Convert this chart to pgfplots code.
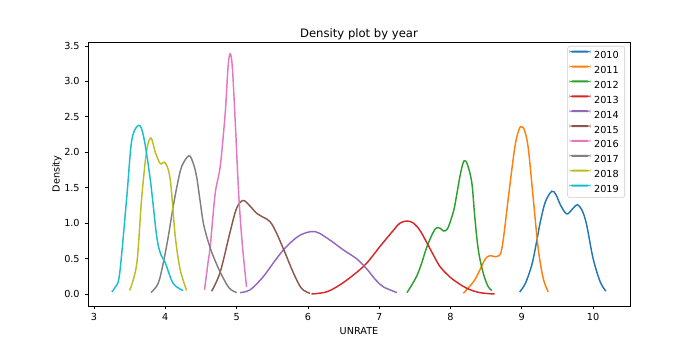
\documentclass[border=0pt]{standalone}
\usepackage{pgfplots}
\pgfplotsset{compat=1.18}
\usepackage{fontspec}
\setmainfont{DejaVu Sans}
\definecolor{c0}{HTML}{1F77B4}
\definecolor{c1}{HTML}{FF7F0E}
\definecolor{c2}{HTML}{2CA02C}
\definecolor{c3}{HTML}{D62728}
\definecolor{c4}{HTML}{9467BD}
\definecolor{c5}{HTML}{8C564B}
\definecolor{c6}{HTML}{E377C2}
\definecolor{c7}{HTML}{7F7F7F}
\definecolor{c8}{HTML}{BCBD22}
\definecolor{c9}{HTML}{17BECF}
\begin{document}
\begin{tikzpicture}
\useasboundingbox (0pt,0pt) rectangle (505.89pt,252.945pt);
\begin{axis}[
 at={(63.6pt,31.8pt)}, anchor=south west,
 scale only axis, width=391.7pt, height=190.8pt,
 xmin=2.916, xmax=10.517, ymin=-0.169, ymax=3.556,
 xtick={3,4,5,6,7,8,9,10},
 ytick={0,0.5,1,1.5,2,2.5,3,3.5},
 yticklabel style={/pgf/number format/.cd,fixed,fixed zerofill,precision=1},
 /pgf/number format/assume math mode=true,
 tick label style={font=\fontsize{7}{8.4}\selectfont},
 xticklabel style={yshift=0.5pt},
 tick align=outside, xtick pos=left, ytick pos=left,
 major tick length=2.5pt,
 every tick/.style={black, line width=0.58pt},
 axis line style={line width=0.58pt},
 title={Density plot by year},
 title style={font=\fontsize{8.4}{10}\selectfont, yshift=-8pt},
 xlabel={UNRATE}, ylabel={Density},
 label style={font=\fontsize{7}{8.4}\selectfont},
 xlabel style={yshift=2pt},
 ylabel style={yshift=-5pt},
 every axis plot/.append style={line width=1.05pt, smooth, tension=0.55},
 legend style={at={(1,1)}, xshift=-3.6pt, yshift=-2.9pt, anchor=north east,
   draw=black!20, fill=white, rounded corners=2pt, font=\fontsize{7}{8.4}\selectfont,
   inner xsep=1.5pt, inner ysep=3.2pt,
   nodes={inner xsep=2.8pt, inner ysep=0.5pt, text height=5.1pt, text depth=0pt}, row sep=4.45pt, cells={anchor=west}},
 legend image code/.code={\fill[#1, draw=none] (0pt,1.85pt) rectangle (15pt,3.25pt);},
]
\addplot[c0] coordinates {(8.97,0.03) (9.05,0.15) (9.14,0.41) (9.2,0.7) (9.26,1.02) (9.33,1.3) (9.42,1.45) (9.48,1.40) (9.54,1.26) (9.63,1.13) (9.72,1.21) (9.78,1.26) (9.85,1.17) (9.91,0.97) (10.0,0.50) (10.1,0.17) (10.18,0.04)};
\addlegendentry{2010}
\addplot[c1] coordinates {(8.18,0.01) (8.34,0.20) (8.48,0.48) (8.55,0.54) (8.65,0.53) (8.72,0.64) (8.81,1.35) (8.90,2.06) (8.96,2.32) (9.0,2.36) (9.04,2.30) (9.09,2.06) (9.16,1.35) (9.23,0.64) (9.30,0.22) (9.37,0.03)};
\addlegendentry{2011}
\addplot[c2] coordinates {(7.39,0.02) (7.52,0.24) (7.60,0.45) (7.67,0.67) (7.78,0.91) (7.85,0.93) (7.90,0.89) (7.95,0.91) (7.99,1.0) (8.05,1.2) (8.09,1.42) (8.14,1.7) (8.19,1.88) (8.24,1.82) (8.30,1.56) (8.34,1.09) (8.39,0.62) (8.46,0.29) (8.53,0.10) (8.58,0.05)};
\addlegendentry{2012}
\addplot[c3] coordinates {(6.05,0.0) (6.26,0.03) (6.45,0.13) (6.64,0.27) (6.82,0.43) (7.01,0.67) (7.20,0.90) (7.29,1.0) (7.39,1.03) (7.48,1.0) (7.57,0.90) (7.67,0.72) (7.76,0.55) (7.85,0.39) (7.95,0.28) (8.04,0.20) (8.23,0.08) (8.41,0.02) (8.62,0.0)};
\addlegendentry{2013}
\addplot[c4] coordinates {(5.05,0.02) (5.19,0.06) (5.37,0.24) (5.56,0.50) (5.70,0.67) (5.89,0.83) (6.10,0.88) (6.31,0.76) (6.50,0.62) (6.68,0.50) (6.82,0.36) (6.95,0.20) (7.06,0.10) (7.25,0.02)};
\addlegendentry{2014}
\addplot[c5] coordinates {(4.65,0.04) (4.77,0.31) (4.91,0.88) (5.0,1.21) (5.09,1.32) (5.18,1.25) (5.28,1.14) (5.38,1.08) (5.47,1.02) (5.56,0.86) (5.68,0.58) (5.80,0.29) (5.91,0.08) (6.03,0.01)};
\addlegendentry{2015}
\addplot[c6] coordinates {(4.55,0.06) (4.60,0.45) (4.63,0.67) (4.70,1.42) (4.77,1.8) (4.84,2.55) (4.88,3.2) (4.91,3.39) (4.94,3.2) (4.98,2.45) (5.03,1.4) (5.08,0.7) (5.14,0.10)};
\addlegendentry{2016}
\addplot[c7] coordinates {(3.80,0.02) (3.9,0.15) (3.97,0.43) (4.04,0.8) (4.11,1.23) (4.17,1.55) (4.23,1.8) (4.33,1.95) (4.39,1.85) (4.44,1.65) (4.49,1.3) (4.54,0.97) (4.63,0.65) (4.72,0.42) (4.81,0.23) (4.9,0.08) (5.0,0.02)};
\addlegendentry{2017}
\addplot[c8] coordinates {(3.5,0.05) (3.6,0.43) (3.67,1.37) (3.74,2.03) (3.80,2.2) (3.86,2.0) (3.93,1.84) (4.0,1.85) (4.07,1.61) (4.14,0.81) (4.21,0.34) (4.30,0.05)};
\addlegendentry{2018}
\addplot[c9] coordinates {(3.25,0.03) (3.30,0.1) (3.36,0.29) (3.46,1.37) (3.53,2.17) (3.63,2.38) (3.70,2.2) (3.79,1.61) (3.88,0.81) (3.94,0.55) (4.0,0.44) (4.11,0.15) (4.25,0.05)};
\addlegendentry{2019}
\end{axis}
\end{tikzpicture}
\end{document}
